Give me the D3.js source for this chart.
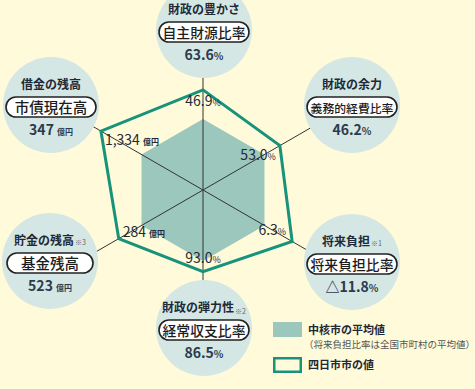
<!DOCTYPE html>
<html lang="ja">
<head>
<meta charset="UTF-8">
<title>財政指標レーダーチャート</title>
<script src="https://d3js.org/d3.v7.min.js"></script>
<style>
  body { margin: 0; background: #fffbda; }
  svg { display: block; font-family: "Noto Sans CJK JP", "Noto Sans", sans-serif; }
</style>
</head>
<body>
<script>
// indicator order: clockwise from the top
const themes   = ["財政の豊かさ", "財政の余力", "将来負担", "財政の弾力性", "貯金の残高", "借金の残高"];
const notes    = ["", "", "※1", "※2", "※3", ""];
const indexes  = ["自主財源比率", "義務的経費比率", "将来負担比率", "経常収支比率", "基金残高", "市債現在高"];
const cityVals = ["63.6", "46.2", "△11.8", "86.5", "523", "347"];
const avgVals  = ["46.9", "53.0", "6.3", "93.0", "284", "1,334"];
const units    = ["%", "%", "%", "%", "億円", "億円"];
// score of Yokkaichi with the core-city average = 100
const cityScore = [141, 125, 145, 115, 137, 166];
const avgScore  = [100, 100, 100, 100, 100, 100];

const legendLabels = ["中核市の平均値", "四日市市の値"];
const legendNote = "（将来負担比率は全国市町村の平均値）";

const width = 475, height = 389;
const cx = 203, cy = 190;
const colAvg = "#9bc7bd", colCity = "#16937a", ink = "#1f2937";

// badge circles around the chart
const badges = [[204, 30], [352, 105], [352, 262], [204, 328], [50, 261], [51, 105]];
// avg value label placement relative to the city vertex: [dx, dy, anchor]
const labelPos = [[0, 16, "middle"], [-4, 14, "end"], [-6, -6, "end"], [0, -9, "middle"], [4, -2, "start"], [4, 14, "start"]];

const svg = d3.select("body").append("svg")
  .attr("width", width).attr("height", height);

svg.append("rect").attr("width", width).attr("height", height).attr("fill", "#fffbda");

const r = d3.scaleLinear().domain([0, 100]).range([0, 71]);
const angle = d3.scaleLinear().domain([0, themes.length]).range([0, 2 * Math.PI]);
const pt = (i, rad) => [cx + rad * Math.sin(angle(i)), cy - rad * Math.cos(angle(i))];

const line = d3.line().curve(d3.curveLinearClosed);

svg.append("path")
  .attr("d", line(avgScore.map((v, i) => pt(i, r(v)))))
  .attr("fill", colAvg);

// axes
svg.append("g").selectAll("line").data(themes).join("line")
  .attr("x1", cx).attr("y1", cy)
  .attr("x2", (d, i) => pt(i, 130)[0])
  .attr("y2", (d, i) => pt(i, 130)[1])
  .attr("stroke", "#333").attr("stroke-width", 1);

svg.append("path")
  .attr("d", line(cityScore.map((v, i) => pt(i, r(v)))))
  .attr("fill", "none")
  .attr("stroke", colCity)
  .attr("stroke-width", 3)
  .attr("stroke-linejoin", "miter");

// average value labels
const vl = svg.append("g").selectAll("text").data(avgVals).join("text")
  .attr("x", (d, i) => pt(i, r(cityScore[i]))[0] + labelPos[i][0])
  .attr("y", (d, i) => pt(i, r(cityScore[i]))[1] + labelPos[i][1])
  .attr("text-anchor", (d, i) => labelPos[i][2])
  .attr("fill", ink);
vl.append("tspan").attr("font-size", 14).text(d => d);
vl.append("tspan")
  .attr("font-size", (d, i) => units[i] === "%" ? 9 : 8)
  .attr("font-weight", (d, i) => units[i] === "%" ? 400 : 700)
  .attr("dx", (d, i) => units[i] === "%" ? 0 : 3)
  .text((d, i) => units[i]);

// badges
const b = svg.append("g").selectAll("g").data(themes).join("g")
  .attr("transform", (d, i) => `translate(${badges[i][0]},${badges[i][1]})`);

b.append("circle").attr("r", 48).attr("fill", "#d5e7e4");

const t1 = b.append("text")
  .attr("y", -16).attr("text-anchor", "middle")
  .attr("font-size", 12).attr("font-weight", 700).attr("fill", ink);
t1.append("tspan").text(d => d);
t1.append("tspan")
  .attr("font-size", 7).attr("font-weight", 400).attr("fill", "#666")
  .attr("dx", 1).attr("dy", (d, i) => i === 3 ? 2 : 0)
  .text((d, i) => notes[i]);

b.append("rect")
  .attr("x", (d, i) => i === 4 ? -43 : -45).attr("y", -8)
  .attr("width", (d, i) => i === 4 ? 86 : 90).attr("height", 20).attr("rx", 10)
  .attr("fill", "#fff").attr("stroke", "#222").attr("stroke-width", 1.6);

b.append("text")
  .attr("y", 7.5).attr("text-anchor", "middle")
  .attr("font-size", (d, i) => Math.min(14.5, 83 / indexes[i].length))
  .attr("font-weight", 500)
  .attr("fill", "#1c1c1c")
  .text((d, i) => indexes[i]);

const t3 = b.append("text")
  .attr("y", 30).attr("text-anchor", "middle")
  .attr("font-weight", 700).attr("fill", "#2c3a4e");
t3.append("tspan").attr("font-size", 14).text((d, i) => cityVals[i]);
t3.append("tspan")
  .attr("font-size", (d, i) => units[i] === "%" ? 10 : 8)
  .attr("dx", (d, i) => units[i] === "%" ? 0 : 3)
  .text((d, i) => units[i]);

// legend
const lg = svg.append("g").attr("transform", "translate(273,322)");
lg.append("rect").attr("width", 29).attr("height", 15).attr("fill", colAvg);
lg.append("text").attr("x", 35).attr("y", 12)
  .attr("font-size", 11).attr("font-weight", 700).attr("fill", ink)
  .text(legendLabels[0]);
lg.append("text").attr("x", 31).attr("y", 26)
  .attr("font-size", 9.5).attr("fill", "#555")
  .text(legendNote);
lg.append("rect").attr("x", 1.25).attr("y", 36.25).attr("width", 26.5).attr("height", 13.5)
  .attr("fill", "none").attr("stroke", colCity).attr("stroke-width", 2.5);
lg.append("text").attr("x", 35).attr("y", 47)
  .attr("font-size", 11).attr("font-weight", 700).attr("fill", ink)
  .text(legendLabels[1]);
</script>
</body>
</html>
